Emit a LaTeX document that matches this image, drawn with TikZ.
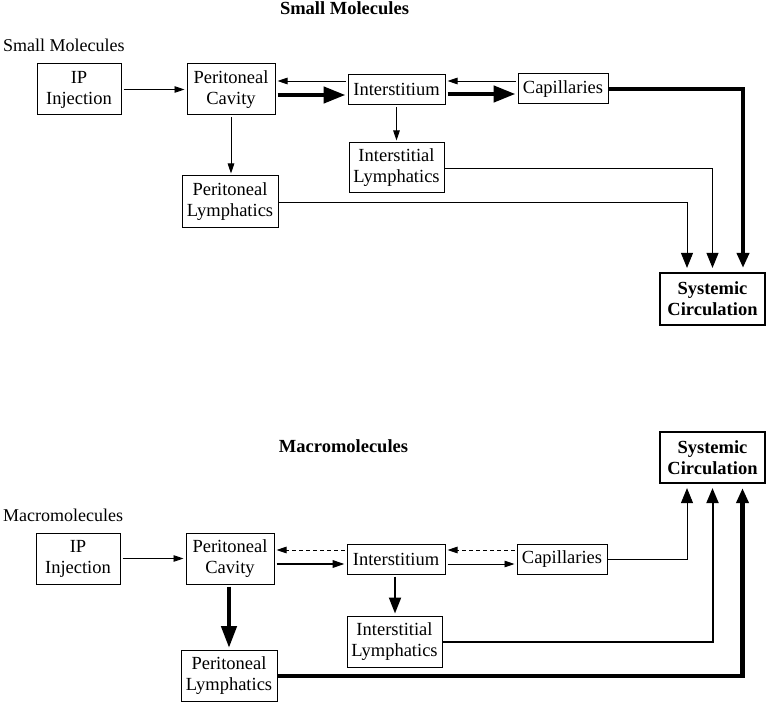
\documentclass[tikz,border=0pt]{standalone}
\usepackage{fontspec}
\setmainfont{Liberation Serif}
\usetikzlibrary{arrows.meta}
\tikzset{
  box/.style={draw, line width=1pt, inner sep=0pt, align=center, font=\fontsize{18.5}{21}\selectfont},
  sysbox/.style={box, line width=2.2pt, font=\fontsize{18.5}{21}\selectfont\bfseries},
  lbl/.style={inner sep=0pt, anchor=base west, font=\fontsize{18}{21}\selectfont},
  ttl/.style={inner sep=0pt, anchor=base, font=\fontsize{18.5}{21}\selectfont\bfseries},
  thin/.style={line width=0.9pt, -{Triangle[length=10pt,width=6.5pt]}, shorten >=2pt, shorten <=2pt},
  dsh/.style={thin, dash pattern=on 4pt off 3pt},
  medh/.style={line width=2pt, -{Triangle[length=12pt,width=7.5pt]}, shorten >=2pt, shorten <=2pt},
  medv/.style={line width=2pt, -{Triangle[length=16pt,width=12pt]}, shorten >=2pt, shorten <=2pt},
  thick/.style={line width=4.5pt, -{Triangle[length=22pt,width=16pt]}, shorten >=2pt, shorten <=2pt},
  sysw/.style={-{Triangle[length=15pt,width=12pt]}, shorten >=4pt},
}
\begin{document}
\begin{tikzpicture}[x=1pt,y=-1pt]
\useasboundingbox (0,0) rectangle (768,703);

% ---------- Small molecules ----------
\node[ttl] (t1) at (344.5,15) {Small Molecules};
\node[lbl] (l1) at (3,52) {Small Molecules};
\node[box, minimum width=84pt, minimum height=51pt] (ip1) at (79,89.5) {IP\\Injection};
\node[box, minimum width=88pt, minimum height=51pt] (pc1) at (231,89.5) {Peritoneal\\Cavity};
\node[box, minimum width=97pt, minimum height=30pt] (in1) at (396.5,89.5) {Interstitium};
\node[box, minimum width=90pt, minimum height=30pt] (ca1) at (563,89) {Capillaries};
\node[box, minimum width=95pt, minimum height=50pt] (il1) at (396.5,168) {Interstitial\\Lymphatics};
\node[box, minimum width=96pt, minimum height=52pt] (pl1) at (230,202) {Peritoneal\\Lymphatics};
\node[sysbox, minimum width=105pt, minimum height=52pt] (sc1) at (712.5,299) {Systemic\\Circulation};

\draw[thin] (ip1.east) -- (pc1.west);
\draw[thin] (in1.west |- 0,81) -- (pc1.east |- 0,81);
\draw[thick] (pc1.east |- 0,95) -- (in1.west |- 0,95);
\draw[thin] (ca1.west |- 0,81) -- (in1.east |- 0,81);
\draw[thick] (in1.east |- 0,94) -- (ca1.west |- 0,94);
\draw[thin] (in1.south) -- (il1.north);
\draw[thin] (pc1.south) -- (pc1.south |- pl1.north);
\draw[sysw, line width=4.5pt] (ca1.east) -| ([xshift=30.5pt]sc1.north);
\draw[sysw, line width=0.9pt] (il1.east) -| (sc1.north);
\draw[sysw, line width=0.9pt] (pl1.east) -| ([xshift=-25.5pt]sc1.north);

% ---------- Macromolecules ----------
\node[ttl] (t2) at (343.5,452) {Macromolecules};
\node[lbl] (l2) at (3,521) {Macromolecules};
\node[box, minimum width=84pt, minimum height=51pt] (ip2) at (78,558.5) {IP\\Injection};
\node[box, minimum width=88pt, minimum height=51pt] (pc2) at (230,558.5) {Peritoneal\\Cavity};
\node[box, minimum width=98pt, minimum height=30pt] (in2) at (396,559) {Interstitium};
\node[box, minimum width=90pt, minimum height=30pt] (ca2) at (562,559) {Capillaries};
\node[box, minimum width=95pt, minimum height=51pt] (il2) at (394.5,641.5) {Interstitial\\Lymphatics};
\node[box, minimum width=96pt, minimum height=51pt] (pl2) at (229,676) {Peritoneal\\Lymphatics};
\node[sysbox, minimum width=105pt, minimum height=51pt] (sc2) at (712.5,457.5) {Systemic\\Circulation};

\draw[thin] (ip2.east) -- (pc2.west);
\draw[dsh] (in2.west |- 0,550) -- (pc2.east |- 0,550);
\draw[medh] (pc2.east |- 0,564) -- (in2.west |- 0,564);
\draw[dsh] (ca2.west |- 0,550) -- (in2.east |- 0,550);
\draw[thin] (in2.east |- 0,564) -- (ca2.west |- 0,564);
\draw[medv] (in2.south -| 395,0) -- (il2.north -| 395,0);
\draw[thick, -{Triangle[length=22pt,width=15pt]}] (pc2.south -| 229,0) -- (pl2.north -| 229,0);
\draw[sysw, line width=0.9pt] (ca2.east) -| ([xshift=-25.5pt]sc2.south);
\draw[sysw, line width=2pt] (il2.east) -| (sc2.south);
\draw[sysw, line width=4.5pt] (pl2.east) -| ([xshift=30pt]sc2.south);
\end{tikzpicture}
\end{document}
